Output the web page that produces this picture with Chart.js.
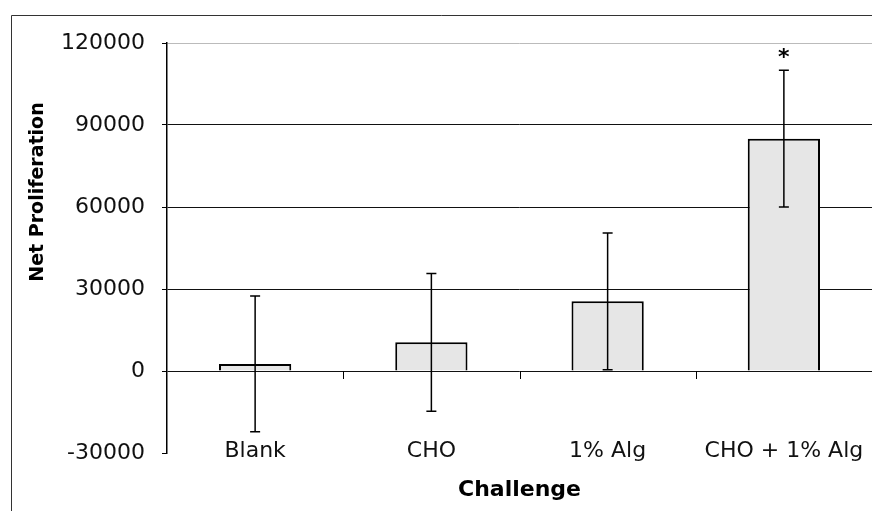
<!DOCTYPE html>
<html>
<head>
<meta charset="utf-8">
<script src="https://cdn.jsdelivr.net/npm/chart.js@4.4.1/dist/chart.umd.min.js"></script>
<style>
  html, body { margin: 0; padding: 0; background: #fff; }
</style>
</head>
<body>
<canvas id="myChart" width="872" height="511"></canvas>
<script>
// data
const categories = ['Blank', 'CHO', '1% Alg', 'CHO + 1% Alg'];
const netProliferation = [2600, 10500, 25500, 85000];
const errorSize = [24800, 25200, 25000, 25000];
const significance = ['', '', '', '*'];
const yTicks = [-30000, 0, 30000, 60000, 90000, 120000];

const FONT = '"DejaVu Sans", sans-serif';

// error bars, asterisk, category labels, small ticks on the zero line, frame and y title
const extras = {
    id: 'extras',
    afterDatasetsDraw(chart) {
        const ctx = chart.ctx;
        const x = chart.scales.x;
        const y = chart.scales.y;
        const meta = chart.getDatasetMeta(0);
        ctx.save();
        ctx.strokeStyle = '#000';
        ctx.lineWidth = 1.5;
        meta.data.forEach((bar, i) => {
            const top = y.getPixelForValue(netProliferation[i] + errorSize[i]);
            const bottom = y.getPixelForValue(netProliferation[i] - errorSize[i]);
            ctx.beginPath();
            ctx.moveTo(bar.x, top); ctx.lineTo(bar.x, bottom);
            ctx.moveTo(bar.x - 5, top); ctx.lineTo(bar.x + 5, top);
            ctx.moveTo(bar.x - 5, bottom); ctx.lineTo(bar.x + 5, bottom);
            ctx.stroke();
            if (significance[i]) {
                ctx.fillStyle = '#000';
                ctx.font = 'bold 22px ' + FONT;
                ctx.textAlign = 'center';
                ctx.textBaseline = 'alphabetic';
                ctx.fillText(significance[i], bar.x, top - 6);
            }
        });

        // category labels (the scale would clip them, they sit beside the -30000 tick)
        ctx.fillStyle = '#111';
        ctx.font = '22px ' + FONT;
        ctx.textAlign = 'center';
        ctx.textBaseline = 'alphabetic';
        categories.forEach((c, i) => {
            ctx.fillText(c, x.getPixelForValue(i), chart.chartArea.bottom + 4);
        });

        // ticks between categories on the zero line
        const y0 = y.getPixelForValue(0);
        ctx.lineWidth = 1;
        for (let i = 1; i < categories.length; i++) {
            const xm = (x.getPixelForValue(i - 1) + x.getPixelForValue(i)) / 2;
            ctx.beginPath();
            ctx.moveTo(Math.round(xm) + 0.5, y0);
            ctx.lineTo(Math.round(xm) + 0.5, y0 + 8);
            ctx.stroke();
        }

        // outer frame (left and top only visible)
        ctx.strokeStyle = '#333';
        ctx.beginPath();
        ctx.moveTo(11.5, chart.height);
        ctx.lineTo(11.5, 15.5);
        ctx.lineTo(chart.width, 15.5);
        ctx.stroke();

        // y axis title
        ctx.translate(38, 192);
        ctx.rotate(-Math.PI / 2);
        ctx.fillStyle = '#000';
        ctx.font = 'bold 19px ' + FONT;
        ctx.textAlign = 'center';
        ctx.textBaseline = 'middle';
        ctx.fillText('Net Proliferation', 0, 0);
        ctx.restore();
    }
};

const ctx = document.getElementById('myChart').getContext('2d');
const myChart = new Chart(ctx, {
    type: 'bar',
    data: {
        labels: categories,
        datasets: [{
            data: netProliferation,
            backgroundColor: '#e6e6e6',
            borderColor: '#000',
            borderWidth: 2,
            barPercentage: 0.41,
            categoryPercentage: 1
        }]
    },
    options: {
        responsive: false,
        animation: false,
        layout: { padding: { top: 43, left: 0, right: 0, bottom: 0 } },
        plugins: {
            legend: { display: false },
            tooltip: { enabled: false }
        },
        scales: {
            x: {
                grid: { display: false },
                border: { display: false },
                ticks: { display: false },
                title: {
                    display: true,
                    text: 'Challenge',
                    color: '#000',
                    font: { family: FONT, size: 22, weight: 'bold' },
                    padding: { top: 0, bottom: 8 }
                },
                afterFit: s => { s.height = 58; }
            },
            y: {
                min: -30000,
                max: 120000,
                afterBuildTicks: s => { s.ticks = yTicks.map(v => ({ value: v })); },
                afterFit: s => { s.width = 167; },
                border: { display: true, color: '#000', width: 1.5 },
                grid: {
                    color: c => c.tick.value === 120000 ? '#bbb' : (c.tick.value === -30000 ? 'rgba(0,0,0,0)' : '#111'),
                    tickColor: '#000',
                    tickLength: 5,
                    lineWidth: 1
                },
                ticks: {
                    padding: 17,
                    color: '#111',
                    font: { family: FONT, size: 22 },
                    callback: v => String(v)
                }
            }
        }
    },
    plugins: [extras]
});
</script>
</body>
</html>
